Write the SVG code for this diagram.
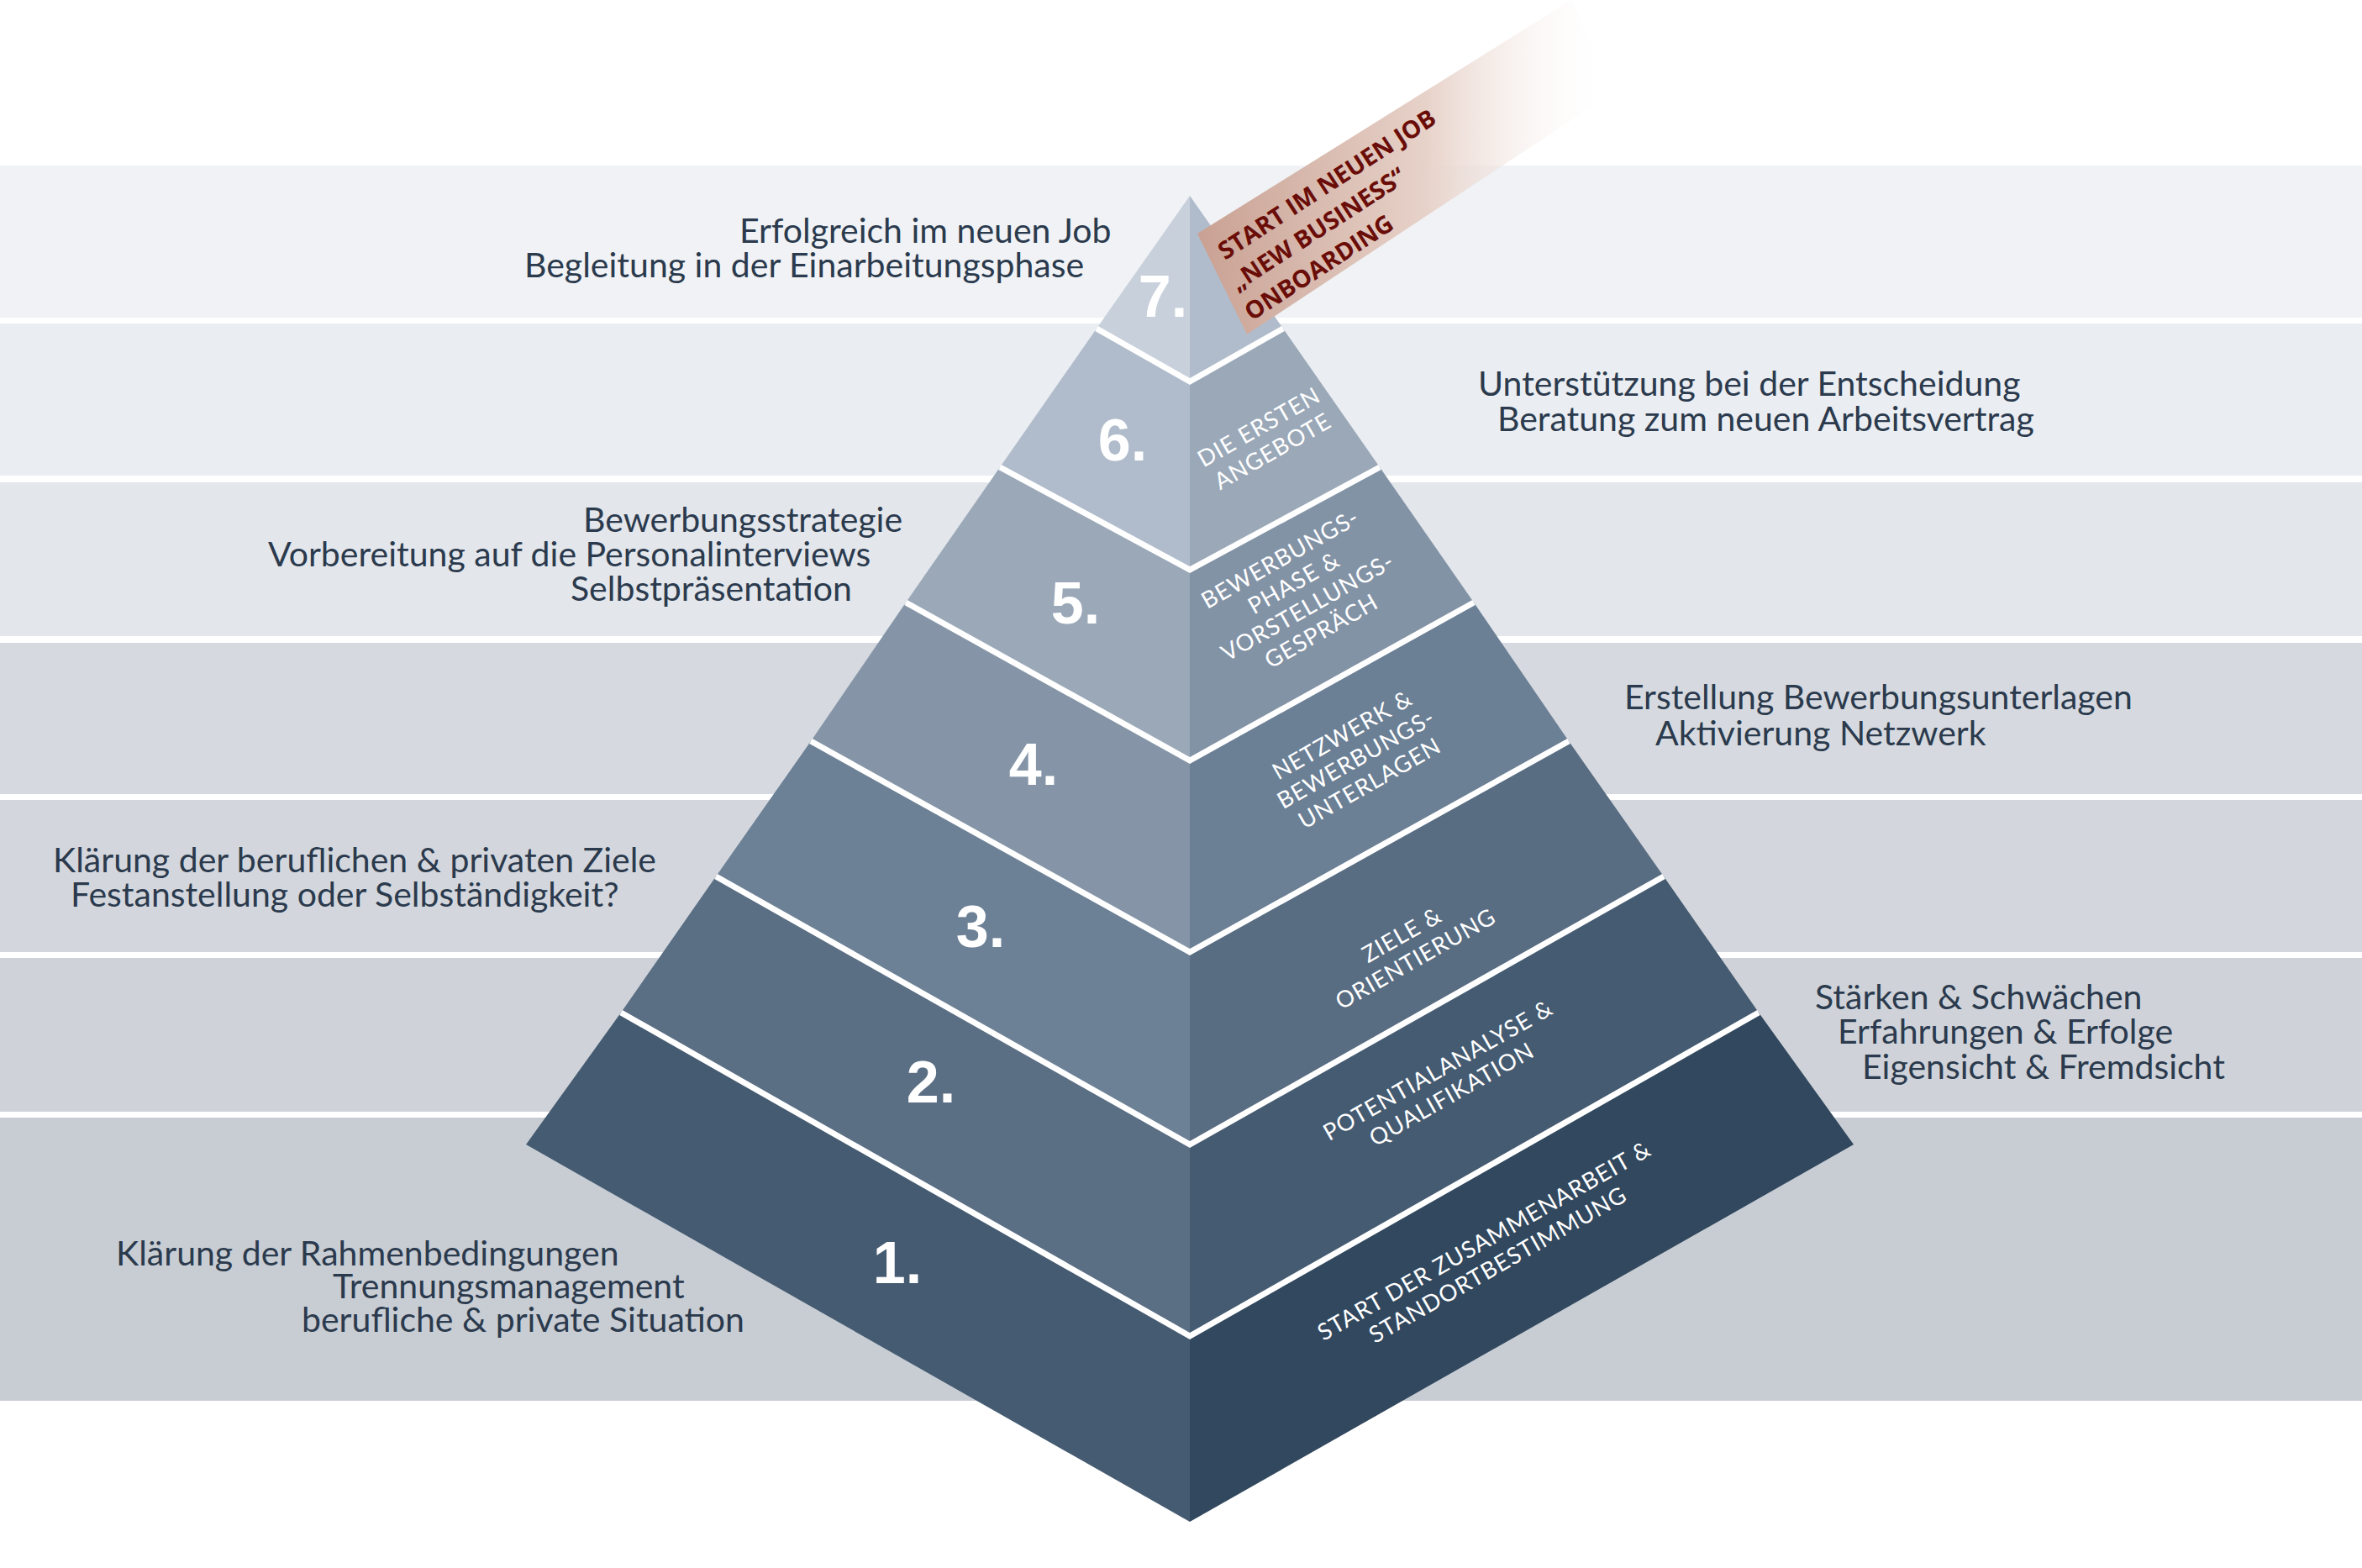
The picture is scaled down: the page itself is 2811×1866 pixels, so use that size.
<svg xmlns="http://www.w3.org/2000/svg" width="2811" height="1866" viewBox="0 0 2811 1866">
<defs>
<style>
.lt{font-family:Lato,"Open Sans","Liberation Sans",sans-serif;font-size:41px;fill:#2b3a4d}
.num{font-family:"Liberation Sans",Arial,sans-serif;font-weight:bold;font-size:70px;fill:#fff;text-anchor:middle}
.rl{font-family:Lato,"Open Sans","Liberation Sans",sans-serif;font-size:27.5px;fill:#fff;text-anchor:middle;letter-spacing:1px}
.sep{fill:none;stroke:#fff;stroke-width:7}
.bn{font-family:"Open Sans","Liberation Sans",sans-serif;font-weight:bold;font-size:29px;fill:#6a0d08}
</style>
<linearGradient id="bg" x1="0" y1="0" x2="1" y2="0">
<stop offset="0" stop-color="#c9a193"/>
<stop offset="0.55" stop-color="#e7d2c9"/>
<stop offset="1" stop-color="#ffffff" stop-opacity="0"/>
</linearGradient>
</defs>
<rect width="2811" height="1866" fill="#fff"/>
<g id="bands">
<rect x="0" y="197" width="2811" height="181" fill="#f0f2f5"/>
<rect x="0" y="385" width="2811" height="181" fill="#eaedf1"/>
<rect x="0" y="574" width="2811" height="183" fill="#e3e6eb"/>
<rect x="0" y="765" width="2811" height="180" fill="#d6dae0"/>
<rect x="0" y="952" width="2811" height="181" fill="#d3d7dd"/>
<rect x="0" y="1140" width="2811" height="183" fill="#cfd3d9"/>
<rect x="0" y="1330" width="2811" height="337" fill="#c8cdd4"/>
</g>
<g id="pyramid">
<polygon points="1416,233 1305,391 1416,454" fill="#c8d0db"/>
<polygon points="1416,233 1416,454 1527,391" fill="#b0bccb"/>
<polygon points="1305,391 1416,454 1416,678 1190,556" fill="#b0bccb"/>
<polygon points="1527,391 1416,454 1416,678 1642,556" fill="#9aa8b8"/>
<polygon points="1190,556 1416,678 1416,905 1078,717" fill="#9aa8b8"/>
<polygon points="1642,556 1416,678 1416,905 1754,717" fill="#8393a6"/>
<polygon points="1078,717 1416,905 1416,1133 965,882" fill="#8595a7"/>
<polygon points="1754,717 1416,905 1416,1133 1867,882" fill="#6b7f95"/>
<polygon points="965,882 1416,1133 1416,1362 852,1043" fill="#6d8196"/>
<polygon points="1867,882 1416,1133 1416,1362 1980,1043" fill="#586c82"/>
<polygon points="852,1043 1416,1362 1416,1590 739,1205" fill="#5a6e84"/>
<polygon points="1980,1043 1416,1362 1416,1590 2093,1205" fill="#455b71"/>
<polygon points="739,1205 1416,1590 1416,1811 626,1362" fill="#455b71"/>
<polygon points="2093,1205 1416,1590 1416,1811 2206,1362" fill="#31485e"/>
<polyline class="sep" points="1305,391 1416,454 1527,391"/>
<polyline class="sep" points="1190,556 1416,678 1642,556"/>
<polyline class="sep" points="1078,717 1416,905 1754,717"/>
<polyline class="sep" points="965,882 1416,1133 1867,882"/>
<polyline class="sep" points="852,1043 1416,1362 1980,1043"/>
<polyline class="sep" points="739,1205 1416,1590 2093,1205"/>
</g>
<g id="numbers">
<text class="num" x="1384" y="377">7.</text>
<text class="num" x="1336" y="548">6.</text>
<text class="num" x="1280" y="742">5.</text>
<text class="num" x="1230" y="934">4.</text>
<text class="num" x="1167" y="1127">3.</text>
<text class="num" x="1108" y="1312">2.</text>
<text class="num" x="1068" y="1527">1.</text>
</g>
<g id="rightlabels">
<g transform="translate(1505,520) rotate(-29.6)"><text class="rl" y="-4">DIE ERSTEN</text><text class="rl" y="29">ANGEBOTE</text></g>
<g transform="translate(1548,708) rotate(-29.6)"><text class="rl" y="-40">BEWERBUNGS-</text><text class="rl" y="-7">PHASE &amp;</text><text class="rl" y="26">VORSTELLUNGS-</text><text class="rl" y="59">GESPRÄCH</text></g>
<g transform="translate(1613,902) rotate(-29.6)"><text class="rl" y="-22">NETZWERK &amp;</text><text class="rl" y="11">BEWERBUNGS-</text><text class="rl" y="44">UNTERLAGEN</text></g>
<g transform="translate(1676,1126) rotate(-29.6)"><text class="rl" y="-6">ZIELE &amp;</text><text class="rl" y="27">ORIENTIERUNG</text></g>
<g transform="translate(1719,1287) rotate(-29.6)"><text class="rl" y="-6">POTENTIALANALYSE &amp;</text><text class="rl" y="27">QUALIFIKATION</text></g>
<g transform="translate(1774,1490) rotate(-29.6)"><text class="rl" y="-6">START DER ZUSAMMENARBEIT &amp;</text><text class="rl" y="27">STANDORTBESTIMMUNG</text></g>
</g>
<g id="banner">
<polygon points="1425,278 1484,398 1920,110 1870,0" fill="url(#bg)"/>
<g transform="translate(1458,310) rotate(-33)">
<text class="bn" x="0" y="0">START  IM NEUEN JOB</text>
<text class="bn" x="-8" y="39">„NEW BUSINESS“</text>
<text class="bn" x="-13" y="78">ONBOARDING</text>
</g>
</g>
<g id="texts">
<text class="lt" x="880" y="289">Erfolgreich im neuen Job</text>
<text class="lt" x="624" y="330">Begleitung in der Einarbeitungsphase</text>
<text class="lt" x="1759" y="471">Unterstützung bei der Entscheidung</text>
<text class="lt" x="1782" y="513">Beratung zum neuen Arbeitsvertrag</text>
<text class="lt" x="694" y="633">Bewerbungsstrategie</text>
<text class="lt" x="319" y="674">Vorbereitung auf die Personalinterviews</text>
<text class="lt" x="679" y="715">Selbstpräsentation</text>
<text class="lt" x="1933" y="844">Erstellung Bewerbungsunterlagen</text>
<text class="lt" x="1970" y="887">Aktivierung Netzwerk</text>
<text class="lt" x="63" y="1038">Klärung der beruflichen &amp; privaten Ziele</text>
<text class="lt" x="84" y="1079">Festanstellung oder Selbständigkeit?</text>
<text class="lt" x="2160" y="1201">Stärken &amp; Schwächen</text>
<text class="lt" x="2187" y="1242">Erfahrungen &amp; Erfolge</text>
<text class="lt" x="2216" y="1284">Eigensicht &amp; Fremdsicht</text>
<text class="lt" x="138" y="1506">Klärung der Rahmenbedingungen</text>
<text class="lt" x="396" y="1545">Trennungsmanagement</text>
<text class="lt" x="359" y="1585">berufliche &amp; private Situation</text>
</g>
</svg>
